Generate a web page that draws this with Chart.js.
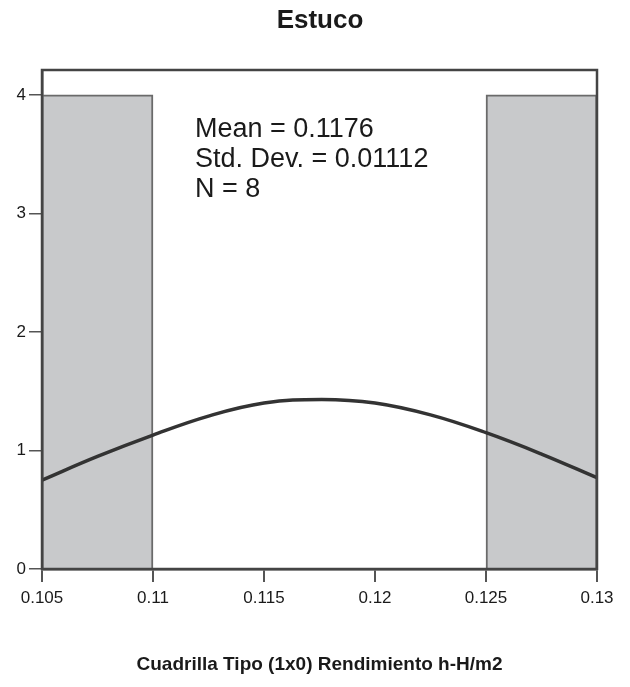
<!DOCTYPE html>
<html>
<head>
<meta charset="utf-8">
<title>Estuco</title>
<script src="https://cdn.jsdelivr.net/npm/chart.js@4/dist/chart.umd.min.js"></script>
<style>
  html, body { margin: 0; padding: 0; background: #fff; }
  #wrap { width: 630px; height: 687px; }
</style>
</head>
<body>
<div id="wrap"><canvas id="hist"></canvas></div>
<script>
// histogram bins (centres, width 0.005) and counts
const binCenters = [0.1075, 0.1125, 0.1175, 0.1225, 0.1275];
const binCounts = [4, 0, 0, 0, 4];

// normal curve heights read along the x axis
const curveX = [0.105, 0.1075, 0.11, 0.1125, 0.115, 0.1176, 0.12, 0.1225, 0.125, 0.1275, 0.13];
const curveY = [0.75, 0.95, 1.13, 1.29, 1.40, 1.43, 1.40, 1.30, 1.15, 0.97, 0.77];

const xTicks = [0.105, 0.11, 0.115, 0.12, 0.125, 0.13];
const yTicks = [0, 1, 2, 3, 4];
const chartTitle = "Estuco";
const statsLines = ["Mean = 0.1176", "Std. Dev. = 0.01112", "N = 8"];

const FONT = "'Liberation Sans', Arial, Helvetica, sans-serif";

// title, box around the plot and the statistics text
const framePlugin = {
  id: "frame",
  afterDatasetsDraw(chart) {
    const { ctx, chartArea: a } = chart;
    ctx.save();
    ctx.strokeStyle = "#444";
    ctx.lineWidth = 2.5;
    ctx.strokeRect(a.left, a.top, a.right - a.left, a.bottom - a.top);

    ctx.fillStyle = "#1a1a1a";
    ctx.font = "bold 26px " + FONT;
    ctx.textAlign = "center";
    ctx.textBaseline = "middle";
    ctx.fillText(chartTitle, 320, 21);

    ctx.font = "27px " + FONT;
    ctx.textAlign = "left";
    ctx.textBaseline = "alphabetic";
    statsLines.forEach((t, i) => {
      ctx.fillText(t, a.left + 153, a.top + 67 + i * 30);
    });
    ctx.restore();
  }
};

new Chart(document.getElementById("hist"), {
  type: "bar",
  data: {
    datasets: [
      {
        type: "line",
        data: curveX.map((x, i) => ({ x, y: curveY[i] })),
        borderColor: "#333",
        borderWidth: 3.5,
        pointRadius: 0,
        tension: 0.4,
        order: 0
      },
      {
        type: "bar",
        data: binCenters.map((x, i) => ({ x, y: binCounts[i] })),
        backgroundColor: "#c8c9cb",
        borderColor: "#6a6a6a",
        borderWidth: (c) => (c.raw && c.raw.y > 0 ? 2 : 0),
        borderSkipped: "bottom",
        barPercentage: 1,
        categoryPercentage: 1,
        order: 1
      }
    ]
  },
  options: {
    responsive: true,
    maintainAspectRatio: false,
    animation: false,
    layout: { padding: { left: 0, right: 33, top: 70, bottom: 0 } },
    plugins: {
      legend: { display: false },
      tooltip: { enabled: false }
    },
    scales: {
      x: {
        type: "linear",
        min: 0.105,
        max: 0.13,
        offset: false,
        afterBuildTicks(scale) {
          scale.ticks = xTicks.map((v) => ({ value: v }));
        },
        afterFit(scale) { scale.height = 118; },
        ticks: {
          color: "#1a1a1a",
          font: { family: FONT, size: 17 },
          padding: 6,
          maxRotation: 0,
          autoSkip: false,
          callback: (v) => String(Number(v.toFixed(3)))
        },
        grid: {
          offset: false,
          drawOnChartArea: false,
          drawTicks: true,
          tickLength: 13,
          color: "#555",
          lineWidth: 2
        },
        border: { display: true, color: "#444", width: 2.5 },
        title: {
          display: true,
          text: "Cuadrilla Tipo (1x0) Rendimiento h-H/m2",
          color: "#1a1a1a",
          font: { family: FONT, size: 19, weight: "bold" },
          padding: { top: 0, bottom: 11 }
        }
      },
      y: {
        min: 0,
        max: 4.21,
        afterBuildTicks(scale) {
          scale.ticks = yTicks.map((v) => ({ value: v }));
        },
        afterFit(scale) { scale.width = 42; },
        ticks: {
          color: "#1a1a1a",
          font: { family: FONT, size: 17 },
          padding: 3
        },
        grid: {
          drawOnChartArea: false,
          drawTicks: true,
          tickLength: 13,
          color: "#555",
          lineWidth: 1.5
        },
        border: { display: true, color: "#444", width: 2.5 }
      }
    }
  },
  plugins: [framePlugin]
});
</script>
</body>
</html>
